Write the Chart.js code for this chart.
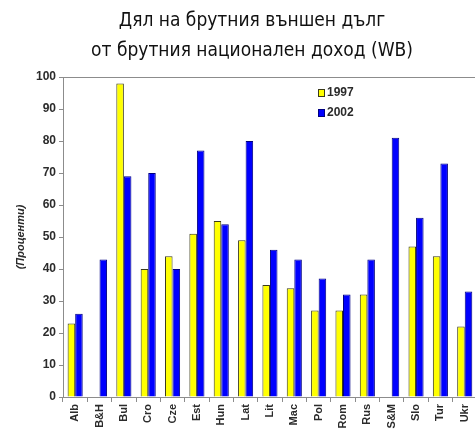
<!DOCTYPE html>
<html lang="bg">
<head>
<meta charset="UTF-8">
<title>Дял на брутния външен дълг</title>
<script src="https://cdn.jsdelivr.net/npm/chart.js"></script>
<style>
    html, body { margin: 0; padding: 0; background: #fff; overflow: hidden; }
    #wrap { width: 480px; height: 434px; }
</style>
</head>
<body>
<div id="wrap">
    <canvas id="debtChart" width="480" height="434"></canvas>
</div>
<script>
    // данни
    const countries = ['Alb', 'B&H', 'Bul', 'Cro', 'Cze', 'Est', 'Hun', 'Lat', 'Lit', 'Mac', 'Pol', 'Rom', 'Rus', 'S&M', 'Slo', 'Tur', 'Ukr'];
    const values1997 = [23, null, 98, 40, 44, 51, 55, 49, 35, 34, 27, 27, 32, null, 47, 44, 22];
    const values2002 = [26, 43, 69, 70, 40, 77, 54, 80, 46, 43, 37, 32, 43, 81, 56, 73, 33];
    const yTicks = [0, 10, 20, 30, 40, 50, 60, 70, 80, 90, 100];
    const titleLines = ['Дял на брутния външен дълг', 'от брутния национален доход (WB)'];

    const textColor = '#2b2b2b';
    const axisColor = '#8c8c8c';

    // заглавие - центрирано малко вдясно, както в оригинала
    const topTitle = {
        id: 'topTitle',
        afterDraw(chart) {
            const ctx = chart.ctx;
            ctx.save();
            ctx.font = '19px "DejaVu Sans Condensed", "Noto Sans", sans-serif';
            ctx.fillStyle = '#111';
            ctx.textAlign = 'center';
            ctx.textBaseline = 'middle';
            titleLines.forEach((t, i) => ctx.fillText(t, 252, 21 + i * 30));
            ctx.restore();
        }
    };

    // легенда вътре в графиката (горе вдясно)
    const innerLegend = {
        id: 'innerLegend',
        afterDraw(chart) {
            const ctx = chart.ctx;
            const x = 318, y0 = 93, step = 20;
            ctx.save();
            ctx.font = 'bold 12px "Liberation Sans", Arial, sans-serif';
            ctx.textBaseline = 'middle';
            chart.data.datasets.forEach((ds, i) => {
                const y = y0 + i * step;
                ctx.fillStyle = ds.backgroundColor;
                ctx.strokeStyle = ds.borderColor;
                ctx.lineWidth = 1;
                ctx.fillRect(x, y - 4, 7, 8);
                ctx.strokeRect(x + 0.5, y - 3.5, 6, 7);
                ctx.fillStyle = textColor;
                ctx.fillText(ds.label, x + 9, y);
            });
            ctx.restore();
        }
    };

    const ctx = document.getElementById('debtChart').getContext('2d');
    new Chart(ctx, {
        type: 'bar',
        data: {
            labels: countries,
            datasets: [
                {
                    label: '1997',
                    data: values1997,
                    backgroundColor: '#ffff00',
                    borderColor: '#3a3a1a',
                    borderWidth: 1,
                    categoryPercentage: 0.62,
                    barPercentage: 1.0
                },
                {
                    label: '2002',
                    data: values2002,
                    backgroundColor: '#0000ff',
                    borderColor: '#000080',
                    borderWidth: 1,
                    categoryPercentage: 0.62,
                    barPercentage: 1.0
                }
            ]
        },
        options: {
            responsive: false,
            animation: false,
            layout: { padding: { left: 0, right: 2, top: 77, bottom: 0 } },
            plugins: {
                legend: { display: false },
                tooltip: { enabled: false },
                title: { display: false }
            },
            scales: {
                x: {
                    afterFit(scale) { scale.height = 37; },
                    grid: {
                        offset: true,
                        drawOnChartArea: false,
                        tickLength: 5,
                        color: axisColor
                    },
                    border: { color: axisColor, width: 1 },
                    ticks: {
                        autoSkip: false,
                        minRotation: 90,
                        maxRotation: 90,
                        padding: 2,
                        color: textColor,
                        font: { family: '"Liberation Sans", Arial, sans-serif', size: 11, weight: 'bold' }
                    }
                },
                y: {
                    min: 0,
                    max: 100,
                    afterFit(scale) { scale.width = 63; },
                    afterBuildTicks(scale) { scale.ticks = yTicks.map(v => ({ value: v })); },
                    grid: {
                        // рамка само горе
                        color: c => (c.tick && c.tick.value === 100) ? axisColor : 'rgba(0,0,0,0)',
                        tickColor: axisColor,
                        tickLength: 4
                    },
                    border: { color: axisColor, width: 1 },
                    ticks: {
                        padding: 3,
                        color: textColor,
                        font: { family: '"Liberation Sans", Arial, sans-serif', size: 12, weight: 'bold' }
                    },
                    title: {
                        display: true,
                        text: '(Проценти)',
                        color: textColor,
                        padding: { top: 14, bottom: 0 },
                        font: { family: '"Liberation Sans", Arial, sans-serif', size: 11, weight: 'bold', style: 'italic' }
                    }
                }
            }
        },
        plugins: [topTitle, innerLegend]
    });
</script>
</body>
</html>
